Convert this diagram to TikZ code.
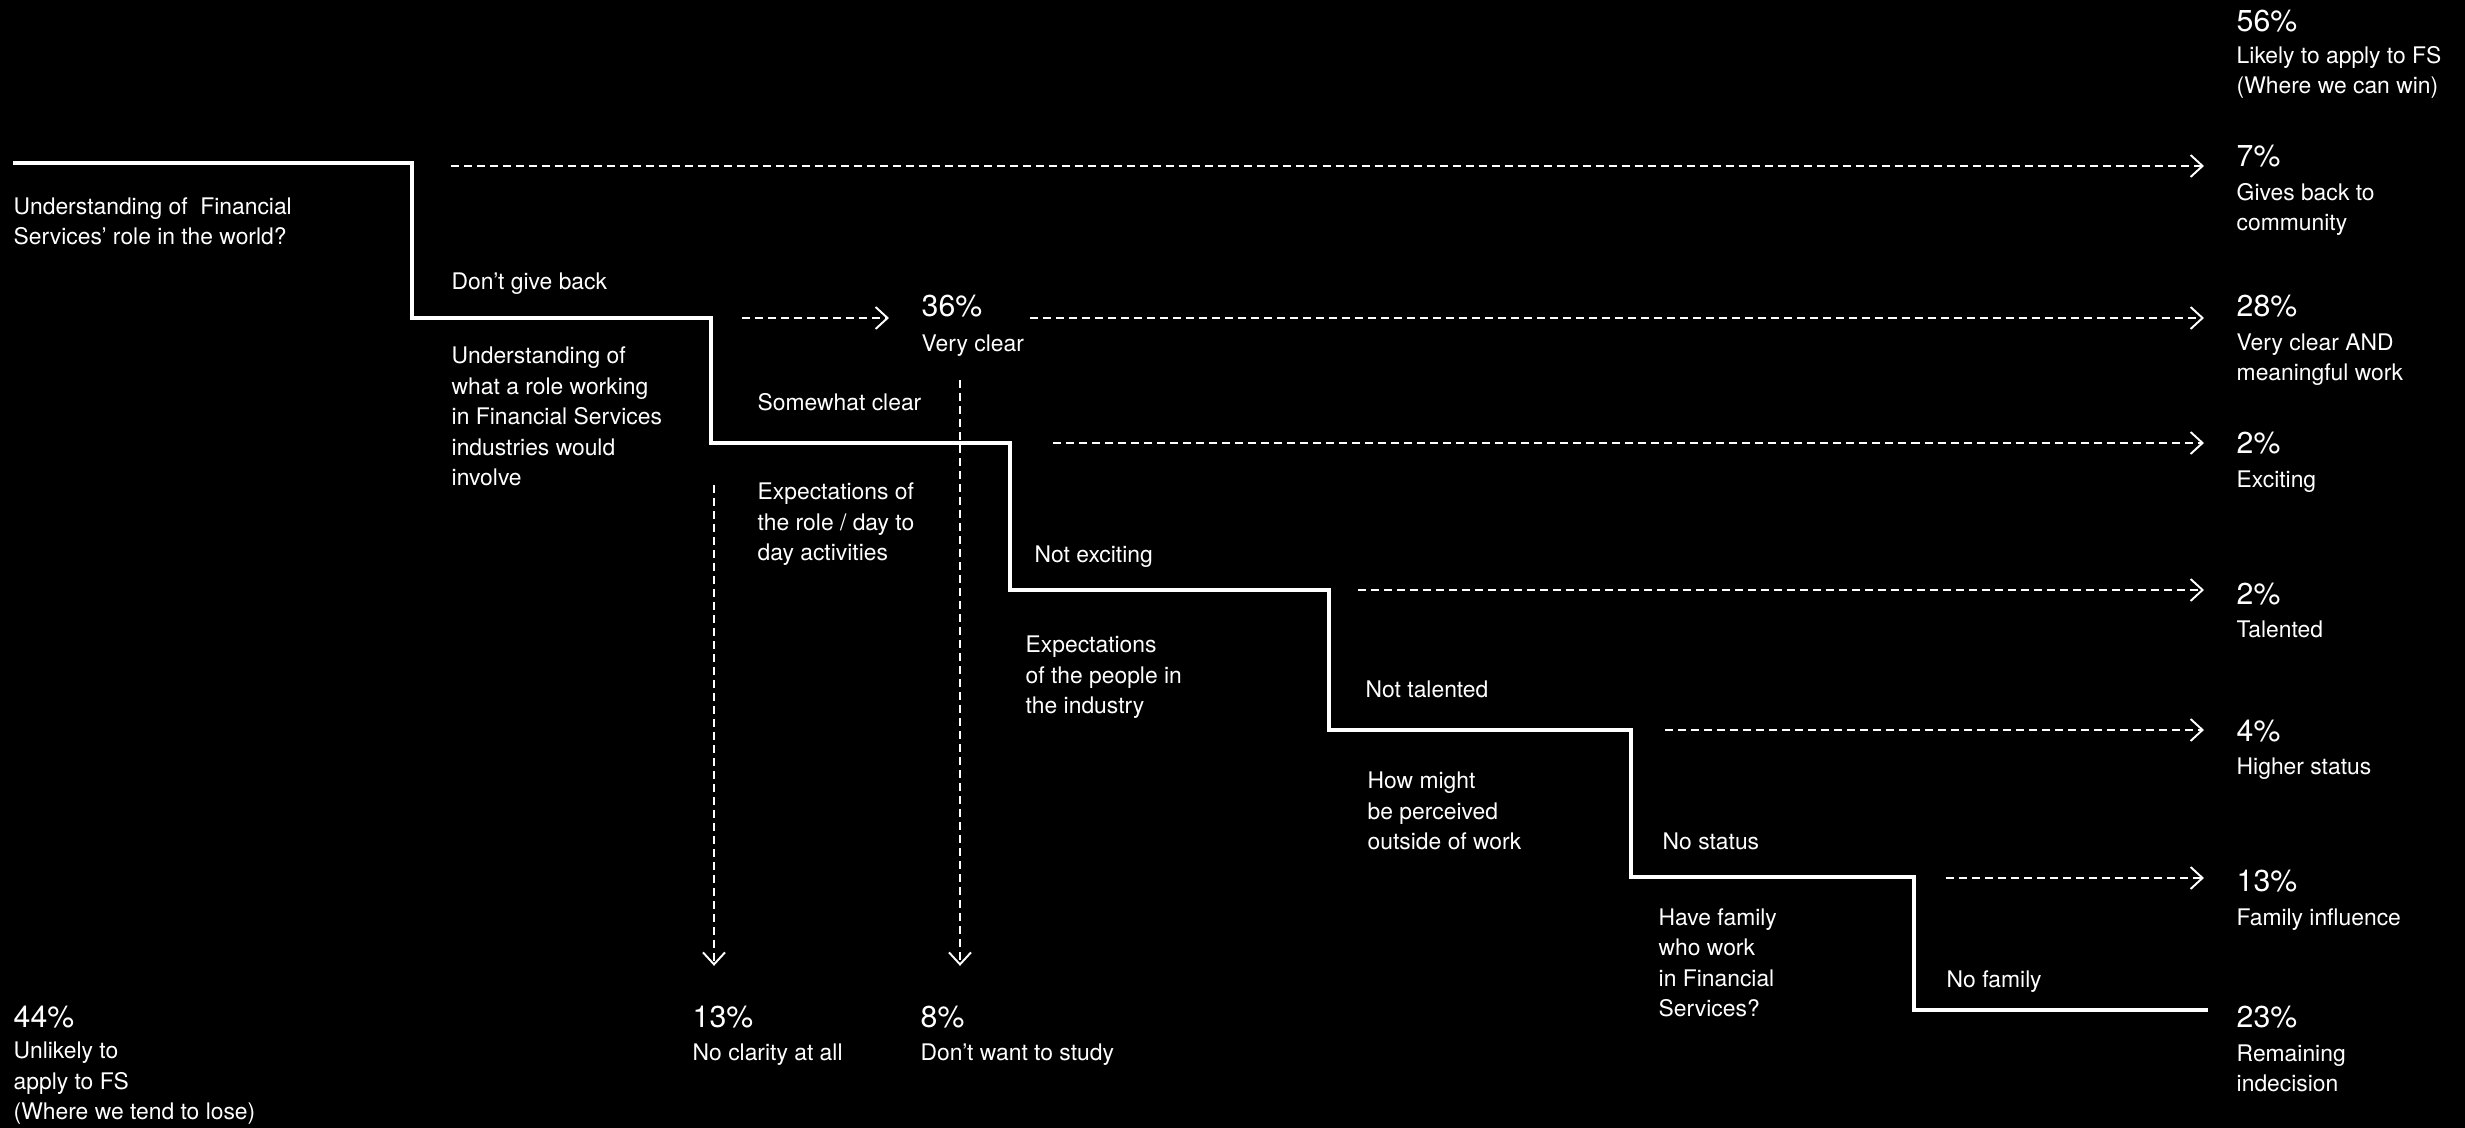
\documentclass[tikz,border=0pt]{standalone}
\usepackage{fontspec}
\setmainfont{TeX Gyre Heros}
\usepackage{tikz}
\usetikzlibrary{arrows.meta,positioning,calc}

\begin{document}
\begin{tikzpicture}[x=0.01cm,y=-0.01cm,txt/.style={anchor=base west,inner sep=0,align=left,text=white},lbl/.style={txt,yshift=-0.25mm,font=\fontsize{6.5}{8.65}\selectfont},pct/.style={txt,font=\fontsize{8.6}{8.6}\selectfont},stair/.style={draw=white,line width=1.15pt},dasharr/.style={draw=white,line width=0.55pt,dash pattern=on 0.8mm off 0.5mm,shorten >=3.2mm,-{Straight Barb[length=1.2mm,width=2.2mm]}}]
\fill[black](0,0) rectangle (2465,1128); \useasboundingbox (0,0) rectangle (2465,1128);
% results on the right (multi-line labels sit on their last baseline)
\node[pct](p56) at (2236,32){56\%}; \node[lbl](d56) at (2236,91){Likely to apply to FS\\(Where we can win)};
\node[pct](p7) at (2236,167){7\%}; \node[lbl](d7) at (2236,228){Gives back to\\community};
\node[pct](p28) at (2236,317){28\%}; \node[lbl](d28) at (2236,378){Very clear AND\\meaningful work};
\node[pct](p2a) at (2236,454){2\%}; \node[lbl](d2a) at (2236,485){Exciting};
\node[pct](p2b) at (2236,605){2\%}; \node[lbl](d2b) at (2236,635){Talented};
\node[pct](p4) at (2236,742){4\%}; \node[lbl](d4) at (2236,772){Higher status};
\node[pct](p13r) at (2236,892){13\%}; \node[lbl](d13r) at (2236,923){Family influence};
\node[pct](p23) at (2236,1028){23\%}; \node[lbl](d23) at (2236,1089){Remaining\\indecision};
% results at the bottom
\node[pct](p44) at (13,1028){44\%}; \node[lbl](d44) at (13,1117){Unlikely to\\apply to FS\\(Where we tend to lose)};
\node[pct](p13) at (692,1028){13\%}; \node[lbl](d13) at (692,1058){No clarity at all};
\node[pct](p8) at (920,1028){8\%}; \node[lbl](d8) at (920,1058){Don't want to study};
\node[pct](p36) at (921,317){36\%}; \node[lbl](d36) at (921,349){Very clear};
% questions and branches
\node[lbl](q1) at (13,242){Understanding of\ \ Financial\\Services’ role in the world?}; \node[lbl](b1) at (451,287){Don't give back};
\node[lbl](q2) at (451,483){Understanding of\\what a role working\\in Financial Services\\industries would\\involve}; \node[lbl](b2) at (757,408){Somewhat clear};
\node[lbl](q3) at (757,558){Expectations of\\the role / day to\\day activities}; \node[lbl](b3) at (1034,560){Not exciting};
\node[lbl](q4) at (1025,711){Expectations\\of the people in\\the industry}; \node[lbl](b4) at (1365,695){Not talented};
\node[lbl](q5) at (1367,847){How might\\be perceived\\outside of work}; \node[lbl](b5) at (1662,847){No status};
\node[lbl](q6) at (1658,1014){Have family\\who work\\in Financial\\Services?}; \node[lbl](b6) at (1946,985){No family};
% staircase
\coordinate(s0) at (13,163); \coordinate(s1) at (412,318); \coordinate(s2) at (711,443); \coordinate(s3) at (1010,590);
\coordinate(s4) at (1329,730); \coordinate(s5) at (1631,877); \coordinate(s6) at (1914,1010); \coordinate(s7) at (2208,1010);
\draw[stair](s0) -| (s1) -| (s2) -| (s3) -| (s4) -| (s5) -| (s6) -- (s7);
% dashed arrows
\coordinate(a7) at (451,166); \coordinate(a36) at (742,318); \coordinate(a28) at (1030,318); \coordinate(a2a) at (1053,443);
\coordinate(a2b) at (1358,590); \coordinate(a4) at (1665,730); \coordinate(a13r) at (1946,878);
\coordinate(v13) at (714,485); \coordinate(v8) at (960,380);
\draw[dasharr](a7) -- (a7 -| p7.west); \draw[dasharr](a36) -- (a36 -| p36.west); \draw[dasharr](a28) -- (a28 -| p28.west);
\draw[dasharr](a2a) -- (a2a -| p2a.west); \draw[dasharr](a2b) -- (a2b -| p2b.west); \draw[dasharr](a4) -- (a4 -| p4.west);
\draw[dasharr](a13r) -- (a13r -| p13r.west); \draw[dasharr,shorten >=4mm](v13) -- (v13 |- p13.north); \draw[dasharr,shorten >=4mm](v8) -- (v8 |- p8.north);
\end{tikzpicture}
\end{document}
